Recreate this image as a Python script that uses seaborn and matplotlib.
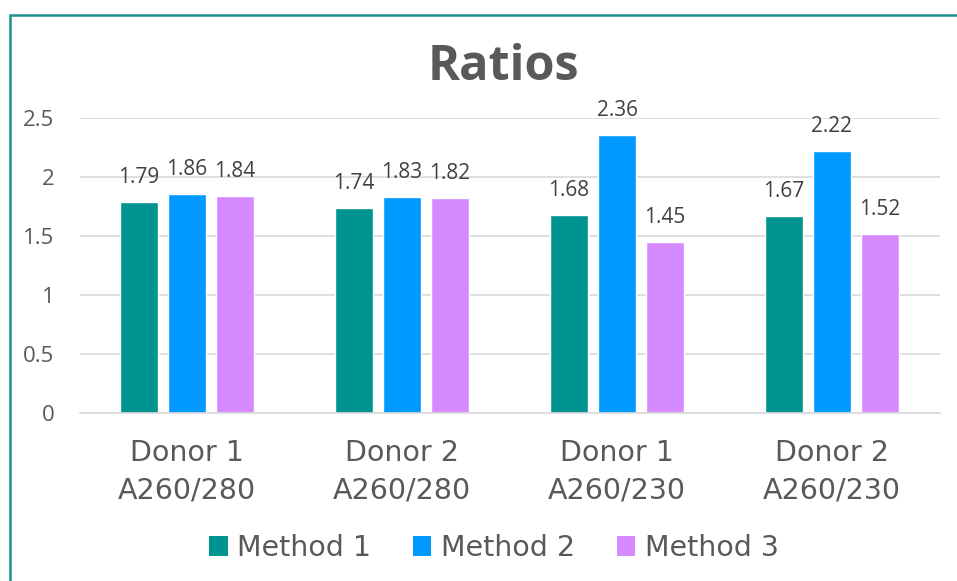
import matplotlib
matplotlib.use("Agg")
import matplotlib.pyplot as plt
import seaborn as sns
import pandas as pd
from matplotlib.patches import Rectangle, Patch

categories = ["Donor 1\nA260/280", "Donor 2\nA260/280", "Donor 1\nA260/230", "Donor 2\nA260/230"]
methods = ["Method 1", "Method 2", "Method 3"]
method1 = [1.79, 1.74, 1.68, 1.67]
method2 = [1.86, 1.83, 2.36, 2.22]
method3 = [1.84, 1.82, 1.45, 1.52]
colors = ["#009490", "#0099FF", "#D68AFF"]

rows = []
for m, vals in zip(methods, [method1, method2, method3]):
    for c, v in zip(categories, vals):
        rows.append({"Category": c, "Method": m, "Value": v})
df = pd.DataFrame(rows)

sns.set_theme(style="white")
plt.rcParams["font.family"] = ["Open Sans", "DejaVu Sans"]
W, H = 957, 581
fig = plt.figure(figsize=(W / 100, H / 100), dpi=100)
ax = fig.add_axes([79.5 / W, 1 - 413 / H, (939.5 - 79.5) / W, (413 - 118) / H])

sns.barplot(data=df, x="Category", y="Value", hue="Method", palette=colors,
            ax=ax, width=0.67, gap=0.2, legend=False, saturation=1)

ax.set_ylim(0, 2.5)
ax.set_xlim(-0.5, 3.5)
ax.set_yticks([0, 0.5, 1, 1.5, 2, 2.5])
ax.set_yticklabels(["0", "0.5", "1", "1.5", "2", "2.5"], fontsize=16, color="#595959")
ax.grid(axis="y", color="#D9D9D9", linewidth=1.2)
ax.set_axisbelow(True)
for s in ["top", "right", "left"]:
    ax.spines[s].set_visible(False)
ax.spines["bottom"].set_color("#D9D9D9")
ax.spines["bottom"].set_linewidth(1.2)
ax.tick_params(axis="y", length=0, pad=18)
ax.tick_params(axis="x", length=0, pad=19)
ax.set_xlabel("")
ax.set_ylabel("")
for lab in ax.get_xticklabels():
    lab.set_fontfamily("DejaVu Sans")
    lab.set_fontsize(20.5)
    lab.set_color("#595959")
    lab.set_linespacing(1.4)

for cont in ax.containers:
    ax.bar_label(cont, labels=[f"{v:.2f}" for v in cont.datavalues], padding=10,
                 fontsize=15, color="#404040")

fig.text(503 / W, 1 - 67 / H, "Ratios", ha="center", va="center",
         fontsize=35, fontweight="bold", color="#595959")

handles = [Patch(facecolor=c, edgecolor="none") for c in colors]
leg = fig.legend(handles, methods, loc="center", bbox_to_anchor=(494 / W, 1 - 548 / H),
                 ncol=3, frameon=False, prop={"family": "DejaVu Sans", "size": 20.5},
                 handlelength=0.65, handleheight=0.65, handletextpad=0.35, columnspacing=1.45)
for t in leg.get_texts():
    t.set_color("#595959")

fig.patches.append(Rectangle((9.5 / W, -0.1), 1.2, (1 - 14.5 / H) + 0.1, transform=fig.transFigure,
                             fill=False, edgecolor="#1A928D", linewidth=1.8))

fig.savefig("out.png", dpi=100, facecolor="white")
